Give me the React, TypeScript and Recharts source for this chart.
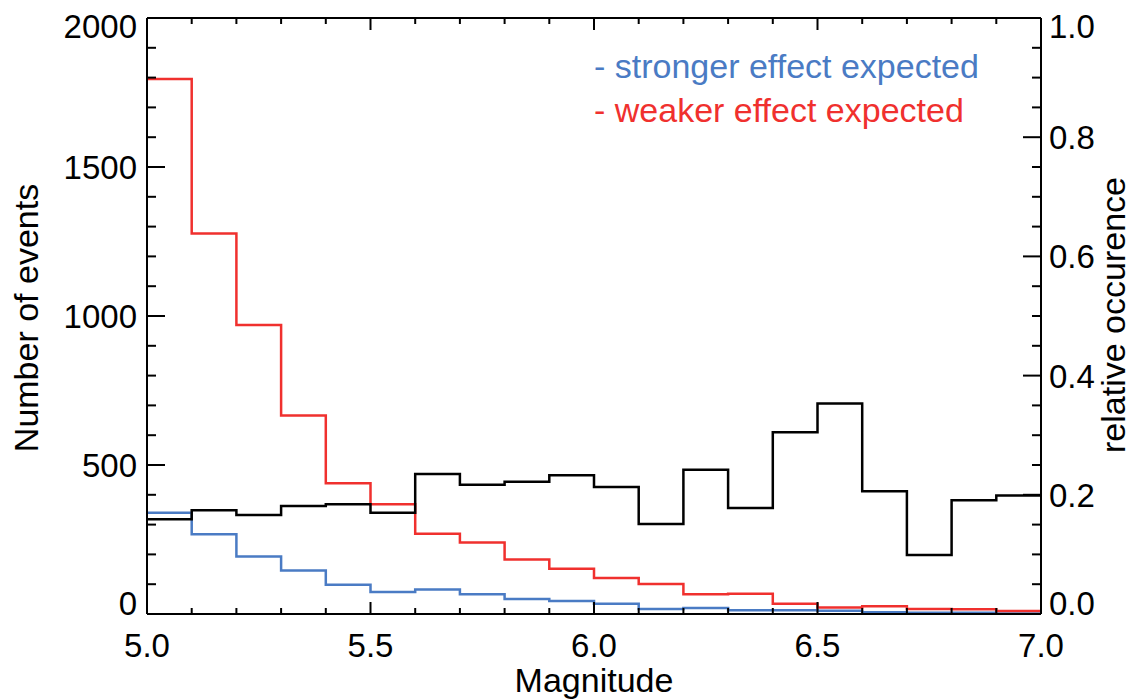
import React from 'react';
import { ComposedChart, Line, XAxis, YAxis } from 'recharts';

// Bin edges (Magnitude); each value applies to the bin starting at that edge
const binEdges = [5.0, 5.1, 5.2, 5.3, 5.4, 5.5, 5.6, 5.7, 5.8, 5.9, 6.0, 6.1, 6.2, 6.3, 6.4, 6.5, 6.6, 6.7, 6.8, 6.9, 7.0];
const strongerCounts = [340, 268, 193, 146, 98, 74, 82, 66, 50, 44, 34, 17, 20, 13, 13, 11, 6, 4, 4, 2];
const weakerCounts = [1795, 1277, 970, 666, 439, 368, 269, 240, 183, 152, 121, 101, 66, 68, 34, 22, 26, 17, 16, 10];
const relativeOccurrence = [0.159, 0.174, 0.166, 0.181, 0.184, 0.170, 0.235, 0.217, 0.222, 0.233, 0.213, 0.151, 0.242, 0.178, 0.305, 0.353, 0.206, 0.099, 0.191, 0.199];

const xTicks = [5.0, 5.1, 5.2, 5.3, 5.4, 5.5, 5.6, 5.7, 5.8, 5.9, 6.0, 6.1, 6.2, 6.3, 6.4, 6.5, 6.6, 6.7, 6.8, 6.9, 7.0];
const xLabelTicks = ['5.0', '5.5', '6.0', '6.5', '7.0'];
const countTicks = [0, 100, 200, 300, 400, 500, 600, 700, 800, 900, 1000, 1100, 1200, 1300, 1400, 1500, 1600, 1700, 1800, 1900, 2000];
const countLabelTicks = [0, 500, 1000, 1500, 2000];
const relTicks = [0, 0.05, 0.1, 0.15, 0.2, 0.25, 0.3, 0.35, 0.4, 0.45, 0.5, 0.55, 0.6, 0.65, 0.7, 0.75, 0.8, 0.85, 0.9, 0.95, 1.0];
const relLabelTicks = ['0.0', '0.2', '0.4', '0.6', '0.8', '1.0'];

const legendItems = [
  { label: '- stronger effect expected', color: '#4a7bc4' },
  { label: '- weaker effect expected', color: '#f0302e' },
];

const data = binEdges.map((x, i) => {
  const k = Math.min(i, strongerCounts.length - 1);
  return { x, stronger: strongerCounts[k], weaker: weakerCounts[k], rel: relativeOccurrence[k] };
});

const FONT = '"Liberation Sans", Arial, Helvetica, sans-serif';
const FS = 33;
const TFS = 34;
const AX = 2;

const LeftTick = (props: any) => {
  const { x, y, payload } = props;
  const v = payload.value;
  const major = countLabelTicks.includes(v);
  let dy = 12;
  if (v === 2000) dy += 8;
  if (v === 0) dy -= 11;
  return (
    <g>
      <line x1={x} x2={x + (major ? 18 : 9)} y1={y} y2={y} stroke="#000" strokeWidth={AX} />
      {major && (
        <text x={x - 10} y={y + dy} textAnchor="end" fontSize={FS} fontFamily={FONT} fill="#000">{String(v)}</text>
      )}
    </g>
  );
};

const RightTick = (props: any) => {
  const { x, y, payload } = props;
  const v = payload.value;
  const lbl = Number(v).toFixed(1);
  const major = Math.round(v * 100) % 20 === 0;
  let dy = 12;
  if (Math.round(v * 100) === 100) dy += 8;
  if (Math.round(v * 100) === 0) dy -= 11;
  return (
    <g>
      <line x1={x} x2={x - (major ? 18 : 9)} y1={y} y2={y} stroke="#000" strokeWidth={AX} />
      {major && relLabelTicks.includes(lbl) && (
        <text x={x + 8} y={y + dy} textAnchor="start" fontSize={FS} fontFamily={FONT} fill="#000">{lbl}</text>
      )}
    </g>
  );
};

const BottomTick = (props: any) => {
  const { x, y, payload } = props;
  const lbl = Number(payload.value).toFixed(1);
  const major = xLabelTicks.includes(lbl);
  return (
    <g>
      <line x1={x} x2={x} y1={y} y2={y - (major ? 12 : 6)} stroke="#000" strokeWidth={AX} />
      {major && (
        <text x={x} y={y + 43} textAnchor="middle" fontSize={FS} fontFamily={FONT} fill="#000">{lbl}</text>
      )}
    </g>
  );
};

const TopTick = (props: any) => {
  const { x, y, payload } = props;
  const lbl = Number(payload.value).toFixed(1);
  const major = xLabelTicks.includes(lbl);
  return <line x1={x} x2={x} y1={y} y2={y + (major ? 12 : 6)} stroke="#000" strokeWidth={AX} />;
};

const W = 1124;
const H = 692;
const LEFT_W = 139;
const RIGHT_W = 91;
const TOP_H = 10;
const BOTTOM_H = 86;

export default function App() {
  return (
    <div style={{ position: 'fixed', left: 8, top: 8, width: W, height: H, background: '#fff' }}>
      <ComposedChart width={W} height={H} data={data} margin={{ top: 0, right: 0, bottom: 0, left: 0 }}>
        <XAxis
          xAxisId="bottom"
          type="number"
          dataKey="x"
          domain={[5, 7]}
          ticks={xTicks}
          interval={0}
          height={BOTTOM_H}
          tickSize={0}
          tickMargin={0}
          tickLine={false}
          axisLine={{ stroke: '#000', strokeWidth: AX }}
          tick={<BottomTick />}
          allowDataOverflow
          label={{
            content: () => (
              <text x={LEFT_W + (W - LEFT_W - RIGHT_W) / 2} y={H - BOTTOM_H + 78} textAnchor="middle" fontSize={TFS} fontFamily={FONT} fill="#000">Magnitude</text>
            ),
          }}
        />
        <XAxis
          xAxisId="top"
          orientation="top"
          type="number"
          dataKey="x"
          domain={[5, 7]}
          ticks={xTicks}
          interval={0}
          height={TOP_H}
          tickSize={0}
          tickMargin={0}
          tickLine={false}
          axisLine={{ stroke: '#000', strokeWidth: AX }}
          tick={<TopTick />}
          allowDataOverflow
        />
        <YAxis
          yAxisId="left"
          domain={[0, 2000]}
          ticks={countTicks}
          interval={0}
          width={LEFT_W}
          tickSize={0}
          tickMargin={0}
          tickLine={false}
          axisLine={{ stroke: '#000', strokeWidth: AX }}
          tick={<LeftTick />}
          allowDataOverflow
          label={{
            content: () => {
              const cx = 30;
              const cy = 310;
              return (
                <text x={cx} y={cy} transform={`rotate(-90 ${cx} ${cy})`} textAnchor="middle" fontSize={TFS} fontFamily={FONT} fill="#000">Number of events</text>
              );
            },
          }}
        />
        <YAxis
          yAxisId="right"
          orientation="right"
          domain={[0, 1]}
          ticks={relTicks}
          interval={0}
          width={RIGHT_W}
          tickSize={0}
          tickMargin={0}
          tickLine={false}
          axisLine={{ stroke: '#000', strokeWidth: AX }}
          tick={<RightTick />}
          allowDataOverflow
          label={{
            content: () => {
              const cx = W - 7;
              const cy = 307;
              return (
                <text x={cx} y={cy} transform={`rotate(-90 ${cx} ${cy})`} textAnchor="middle" fontSize={TFS} fontFamily={FONT} fill="#000">relative occurence</text>
              );
            },
          }}
        />
        <Line xAxisId="bottom" yAxisId="left" dataKey="stronger" type="stepAfter" stroke="#4a7bc4" strokeWidth={2.5} dot={false} activeDot={false} isAnimationActive={false} />
        <Line xAxisId="bottom" yAxisId="left" dataKey="weaker" type="stepAfter" stroke="#f0302e" strokeWidth={2.5} dot={false} activeDot={false} isAnimationActive={false} />
        <Line xAxisId="bottom" yAxisId="right" dataKey="rel" type="stepAfter" stroke="#000" strokeWidth={2.5} dot={false} activeDot={false} isAnimationActive={false} />
      </ComposedChart>
      <div style={{ position: 'absolute', left: 586, top: 36, fontFamily: FONT, fontSize: TFS, lineHeight: '44px', whiteSpace: 'nowrap' }}>
        {legendItems.map((it) => (
          <div key={it.label} style={{ color: it.color }}>{it.label}</div>
        ))}
      </div>
    </div>
  );
}
